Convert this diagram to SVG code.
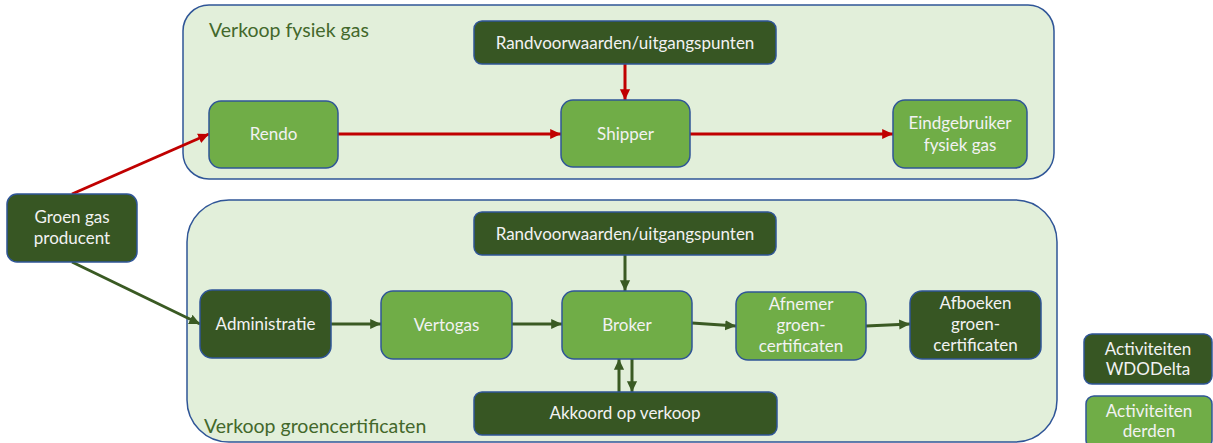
<svg xmlns="http://www.w3.org/2000/svg" width="1213" height="443" viewBox="0 0 1213 443">
<style>
.cont{fill:#E2EFDA;stroke:#2F5597;stroke-width:1.5}
.dark{fill:#375623;stroke:#2F5597;stroke-width:1.5}
.light{fill:#70AD47;stroke:#2F5597;stroke-width:1.5}
text{font-family:Lato,"Liberation Sans",sans-serif}
.t{fill:#F2F2F2;font-size:17px;text-anchor:middle}
.lbl{fill:#43682B;font-size:19.5px}
.red{stroke:#C00000;stroke-width:3;fill:none;marker-end:url(#ar)}
.grn{stroke:#3A5A23;stroke-width:3;fill:none;marker-end:url(#ag)}
</style>
<defs>
<marker id="ar" markerWidth="4" markerHeight="4" refX="3.6" refY="2" orient="auto" markerUnits="strokeWidth"><path d="M0,0.3 L3.6,2 L0,3.7 z" fill="#C00000"/></marker>
<marker id="ag" markerWidth="4" markerHeight="4" refX="3.6" refY="2" orient="auto" markerUnits="strokeWidth"><path d="M0,0.3 L3.6,2 L0,3.7 z" fill="#3A5A23"/></marker>
</defs>
<rect width="1213" height="443" fill="#FFFFFF"/>
<g id="container-fysiek">
<rect class="cont" x="183" y="5" width="871" height="174" rx="26"/>
<text class="lbl" x="209" y="37">Verkoop fysiek gas</text>
</g>
<g id="container-groen">
<rect class="cont" x="187" y="200" width="870" height="242" rx="42"/>
<text class="lbl" x="204" y="433">Verkoop groencertificaten</text>
</g>
<g id="connectors">
<line class="red" x1="72" y1="194" x2="209" y2="134"/>
<line class="red" x1="338" y1="134" x2="561" y2="134"/>
<line class="red" x1="625" y1="64" x2="625" y2="100"/>
<line class="red" x1="690" y1="134" x2="893" y2="134"/>
<line class="grn" x1="72" y1="262" x2="200" y2="324"/>
<line class="grn" x1="331" y1="324" x2="381" y2="324"/>
<line class="grn" x1="512" y1="324" x2="562" y2="324"/>
<line class="grn" x1="692" y1="323" x2="736" y2="326"/>
<line class="grn" x1="866" y1="326" x2="910" y2="324"/>
<line class="grn" x1="625" y1="255" x2="625" y2="291"/>
<line class="grn" x1="619" y1="392" x2="619" y2="359"/>
<line class="grn" x1="632" y1="359" x2="632" y2="392"/>
</g>
<g id="producent">
<rect class="dark" x="7" y="194" width="130" height="68" rx="10"/>
<text class="t" x="72" y="223">Groen gas</text>
<text class="t" x="72" y="244">producent</text>
</g>
<g id="randvoorwaarden-1">
<rect class="dark" x="474" y="21" width="302" height="43" rx="8"/>
<text class="t" x="625" y="49">Randvoorwaarden/uitgangspunten</text>
</g>
<g id="rendo">
<rect class="light" x="209" y="101" width="129" height="67" rx="12"/>
<text class="t" x="273.5" y="140">Rendo</text>
</g>
<g id="shipper">
<rect class="light" x="561" y="100" width="129" height="67" rx="12"/>
<text class="t" x="625.5" y="140">Shipper</text>
</g>
<g id="eindgebruiker">
<rect class="light" x="893" y="100" width="134" height="68" rx="12"/>
<text class="t" x="960" y="129">Eindgebruiker</text>
<text class="t" x="960" y="151">fysiek gas</text>
</g>
<g id="randvoorwaarden-2">
<rect class="dark" x="474" y="212" width="302" height="43" rx="8"/>
<text class="t" x="625" y="240">Randvoorwaarden/uitgangspunten</text>
</g>
<g id="administratie">
<rect class="dark" x="200" y="290" width="131" height="68" rx="12"/>
<text class="t" x="265.5" y="330">Administratie</text>
</g>
<g id="vertogas">
<rect class="light" x="381" y="291" width="131" height="68" rx="12"/>
<text class="t" x="446.5" y="331">Vertogas</text>
</g>
<g id="broker">
<rect class="light" x="562" y="291" width="130" height="68" rx="12"/>
<text class="t" x="627" y="331">Broker</text>
</g>
<g id="afnemer">
<rect class="light" x="736" y="292" width="130" height="68" rx="12"/>
<text class="t" x="801" y="310">Afnemer</text>
<text class="t" x="801" y="331">groen-</text>
<text class="t" x="801" y="352">certificaten</text>
</g>
<g id="afboeken">
<rect class="dark" x="910" y="291" width="131" height="68" rx="12"/>
<text class="t" x="975.5" y="309">Afboeken</text>
<text class="t" x="975.5" y="330">groen-</text>
<text class="t" x="975.5" y="351">certificaten</text>
</g>
<g id="akkoord">
<rect class="dark" x="474" y="392" width="303" height="43" rx="8"/>
<text class="t" x="625" y="419">Akkoord op verkoop</text>
</g>
<g id="legend-wdodelta">
<rect class="dark" x="1084" y="334" width="128" height="50" rx="8"/>
<text class="t" x="1148" y="355">Activiteiten</text>
<text class="t" x="1148" y="375">WDODelta</text>
</g>
<g id="legend-derden">
<rect class="light" x="1086" y="396" width="126" height="52" rx="8"/>
<text class="t" x="1149" y="417">Activiteiten</text>
<text class="t" x="1149" y="437">derden</text>
</g>
</svg>
